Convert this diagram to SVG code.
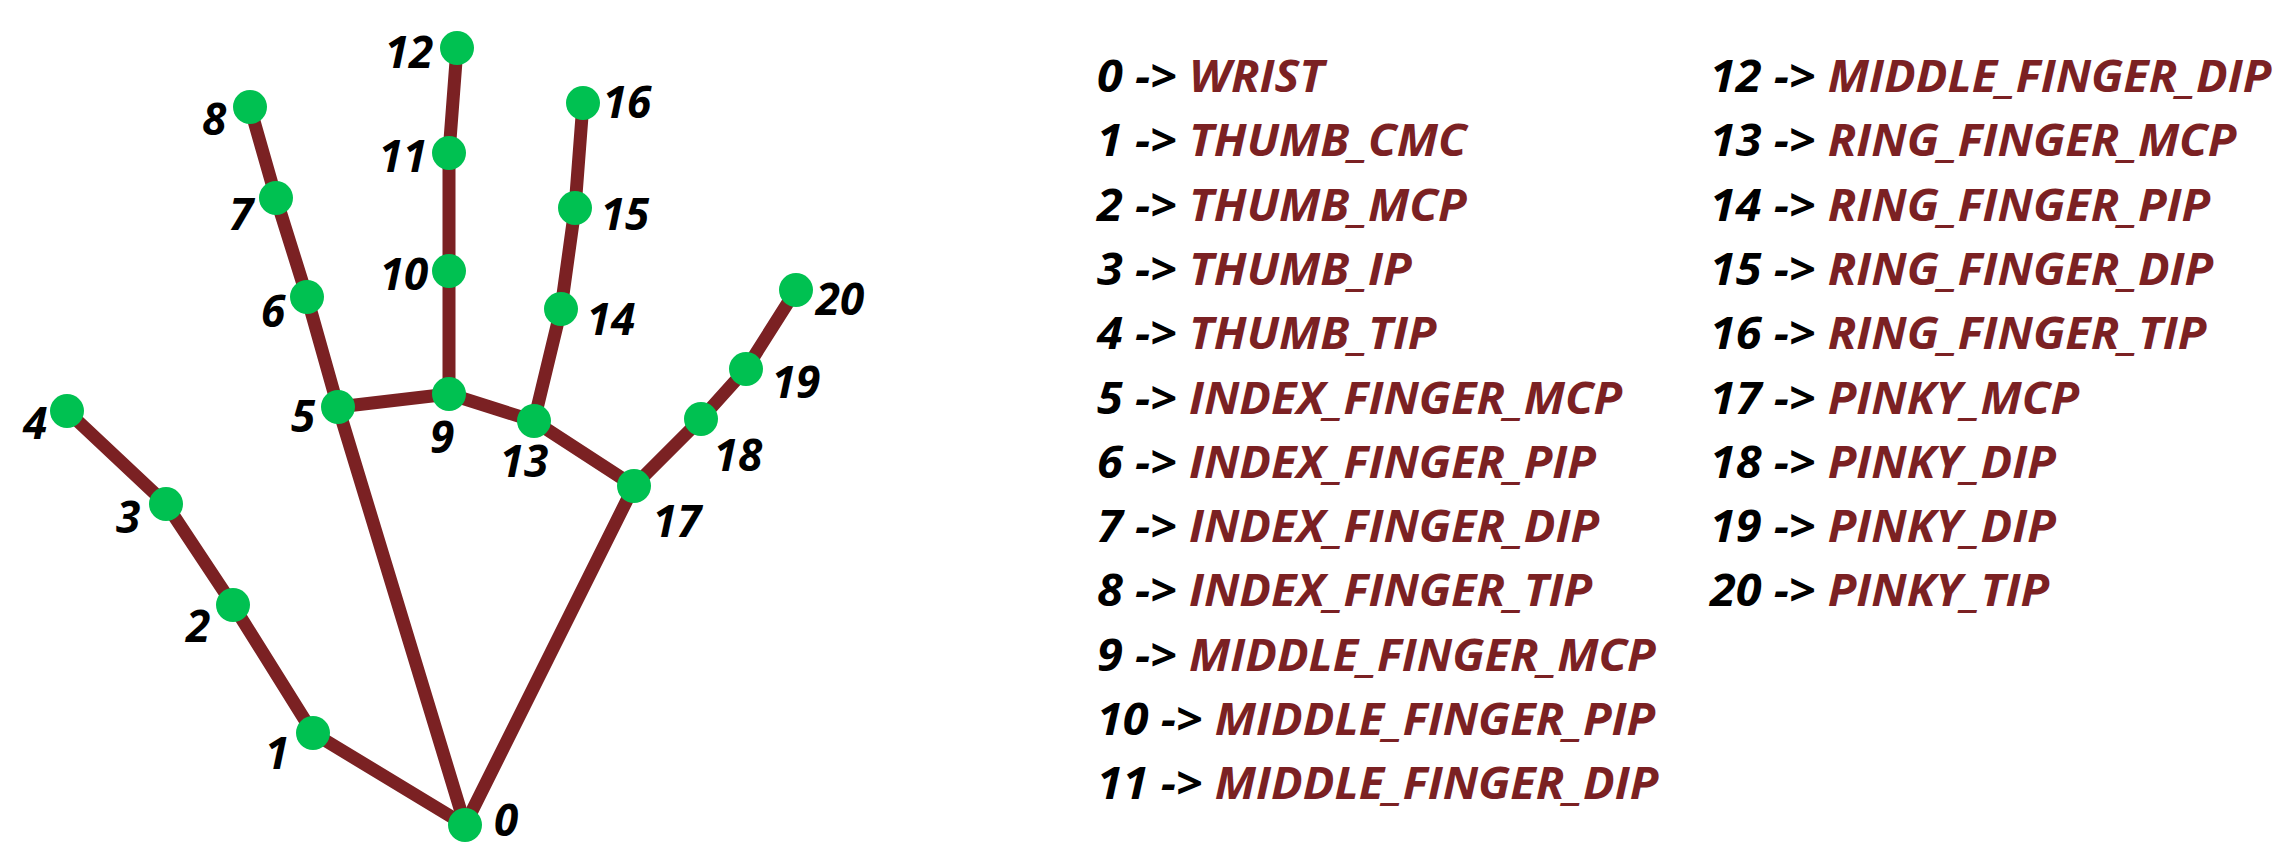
<svg xmlns="http://www.w3.org/2000/svg" width="2286" height="868" viewBox="0 0 2286 868">
<style>
.bone{stroke:#7b2123;stroke-width:13;stroke-linecap:round;fill:none}
.kp{fill:#00c151}
.lbl{font-family:"Open Sans","Noto Sans",sans-serif;font-weight:bold;font-style:italic;font-size:44px;fill:#000;text-anchor:middle}
.row{font-family:"Open Sans","Noto Sans",sans-serif;font-weight:bold;font-style:italic;font-size:44px;fill:#000}
.nm{fill:#7b2123}
</style>
<rect width="2286" height="868" fill="#fff"/>
<g id="connectors">
<line class="bone" x1="465" y1="825" x2="313" y2="733"/>
<line class="bone" x1="313" y1="733" x2="233" y2="605"/>
<line class="bone" x1="233" y1="605" x2="166" y2="504"/>
<line class="bone" x1="166" y1="504" x2="67" y2="411"/>
<line class="bone" x1="465" y1="825" x2="338" y2="407"/>
<line class="bone" x1="338" y1="407" x2="307" y2="297"/>
<line class="bone" x1="307" y1="297" x2="276" y2="198"/>
<line class="bone" x1="276" y1="198" x2="250" y2="107"/>
<line class="bone" x1="338" y1="407" x2="449" y2="394"/>
<line class="bone" x1="449" y1="394" x2="449" y2="271"/>
<line class="bone" x1="449" y1="271" x2="449" y2="153"/>
<line class="bone" x1="449" y1="153" x2="457" y2="48"/>
<line class="bone" x1="449" y1="394" x2="534" y2="421"/>
<line class="bone" x1="534" y1="421" x2="561" y2="309"/>
<line class="bone" x1="561" y1="309" x2="575" y2="208"/>
<line class="bone" x1="575" y1="208" x2="583" y2="103"/>
<line class="bone" x1="534" y1="421" x2="634" y2="486"/>
<line class="bone" x1="465" y1="825" x2="634" y2="486"/>
<line class="bone" x1="634" y1="486" x2="701" y2="419"/>
<line class="bone" x1="701" y1="419" x2="746" y2="369"/>
<line class="bone" x1="746" y1="369" x2="796" y2="290"/>
</g>
<g id="n0"><circle class="kp" cx="465" cy="825" r="17"/><text class="lbl" x="506" y="836">0</text></g>
<g id="n1"><circle class="kp" cx="313" cy="733" r="17"/><text class="lbl" x="277" y="769">1</text></g>
<g id="n2"><circle class="kp" cx="233" cy="605" r="17"/><text class="lbl" x="198" y="642">2</text></g>
<g id="n3"><circle class="kp" cx="166" cy="504" r="17"/><text class="lbl" x="128" y="533">3</text></g>
<g id="n4"><circle class="kp" cx="67" cy="411" r="17"/><text class="lbl" x="35" y="439">4</text></g>
<g id="n5"><circle class="kp" cx="338" cy="407" r="17"/><text class="lbl" x="303" y="432">5</text></g>
<g id="n6"><circle class="kp" cx="307" cy="297" r="17"/><text class="lbl" x="273" y="327">6</text></g>
<g id="n7"><circle class="kp" cx="276" cy="198" r="17"/><text class="lbl" x="241" y="230">7</text></g>
<g id="n8"><circle class="kp" cx="250" cy="107" r="17"/><text class="lbl" x="214" y="135">8</text></g>
<g id="n9"><circle class="kp" cx="449" cy="394" r="17"/><text class="lbl" x="442" y="453">9</text></g>
<g id="n10"><circle class="kp" cx="449" cy="271" r="17"/><text class="lbl" x="404" y="290">10</text></g>
<g id="n11"><circle class="kp" cx="449" cy="153" r="17"/><text class="lbl" x="403" y="172">11</text></g>
<g id="n12"><circle class="kp" cx="457" cy="48" r="17"/><text class="lbl" x="409" y="68">12</text></g>
<g id="n13"><circle class="kp" cx="534" cy="421" r="17"/><text class="lbl" x="524" y="477">13</text></g>
<g id="n14"><circle class="kp" cx="561" cy="309" r="17"/><text class="lbl" x="611" y="335">14</text></g>
<g id="n15"><circle class="kp" cx="575" cy="208" r="17"/><text class="lbl" x="625" y="230">15</text></g>
<g id="n16"><circle class="kp" cx="583" cy="103" r="17"/><text class="lbl" x="627" y="118">16</text></g>
<g id="n17"><circle class="kp" cx="634" cy="486" r="17"/><text class="lbl" x="677" y="537">17</text></g>
<g id="n18"><circle class="kp" cx="701" cy="419" r="17"/><text class="lbl" x="738" y="471">18</text></g>
<g id="n19"><circle class="kp" cx="746" cy="369" r="17"/><text class="lbl" x="796" y="398">19</text></g>
<g id="n20"><circle class="kp" cx="796" cy="290" r="17"/><text class="lbl" x="840" y="315">20</text></g>
<g id="legend">
<g transform="translate(1097 0) scale(1.065 1)">
<text class="row" x="0" y="92">0 -&gt; <tspan class="nm">WRIST</tspan></text>
<text class="row" x="0" y="156">1 -&gt; <tspan class="nm">THUMB_CMC</tspan></text>
<text class="row" x="0" y="221">2 -&gt; <tspan class="nm">THUMB_MCP</tspan></text>
<text class="row" x="0" y="285">3 -&gt; <tspan class="nm">THUMB_IP</tspan></text>
<text class="row" x="0" y="349">4 -&gt; <tspan class="nm">THUMB_TIP</tspan></text>
<text class="row" x="0" y="414">5 -&gt; <tspan class="nm">INDEX_FINGER_MCP</tspan></text>
<text class="row" x="0" y="478">6 -&gt; <tspan class="nm">INDEX_FINGER_PIP</tspan></text>
<text class="row" x="0" y="542">7 -&gt; <tspan class="nm">INDEX_FINGER_DIP</tspan></text>
<text class="row" x="0" y="606">8 -&gt; <tspan class="nm">INDEX_FINGER_TIP</tspan></text>
<text class="row" x="0" y="671">9 -&gt; <tspan class="nm">MIDDLE_FINGER_MCP</tspan></text>
<text class="row" x="0" y="735">10 -&gt; <tspan class="nm">MIDDLE_FINGER_PIP</tspan></text>
<text class="row" x="0" y="799">11 -&gt; <tspan class="nm">MIDDLE_FINGER_DIP</tspan></text>
</g>
<g transform="translate(1710 0) scale(1.065 1)">
<text class="row" x="0" y="92">12 -&gt; <tspan class="nm">MIDDLE_FINGER_DIP</tspan></text>
<text class="row" x="0" y="156">13 -&gt; <tspan class="nm">RING_FINGER_MCP</tspan></text>
<text class="row" x="0" y="221">14 -&gt; <tspan class="nm">RING_FINGER_PIP</tspan></text>
<text class="row" x="0" y="285">15 -&gt; <tspan class="nm">RING_FINGER_DIP</tspan></text>
<text class="row" x="0" y="349">16 -&gt; <tspan class="nm">RING_FINGER_TIP</tspan></text>
<text class="row" x="0" y="414">17 -&gt; <tspan class="nm">PINKY_MCP</tspan></text>
<text class="row" x="0" y="478">18 -&gt; <tspan class="nm">PINKY_DIP</tspan></text>
<text class="row" x="0" y="542">19 -&gt; <tspan class="nm">PINKY_DIP</tspan></text>
<text class="row" x="0" y="606">20 -&gt; <tspan class="nm">PINKY_TIP</tspan></text>
</g>
</g>
</svg>
